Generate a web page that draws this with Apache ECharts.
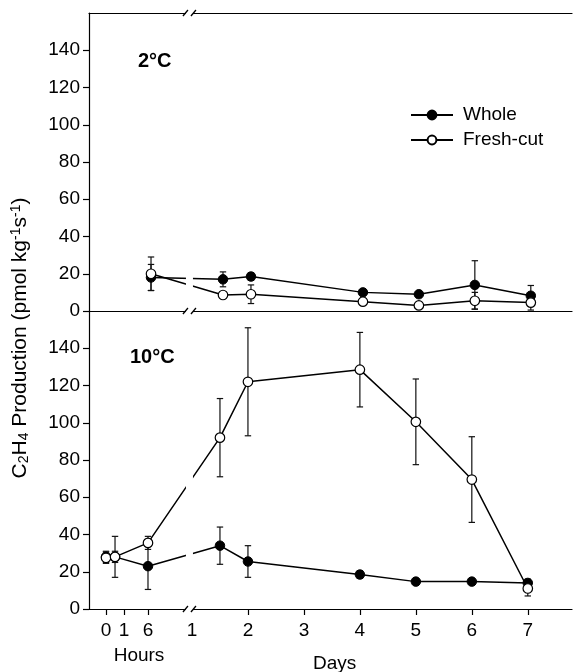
<!DOCTYPE html>
<html><head><meta charset="utf-8">
<script src="https://cdn.jsdelivr.net/npm/echarts@6/dist/echarts.min.js"></script>
<style>html,body{margin:0;padding:0;background:#fff}#c{width:573px;height:672px}</style>
</head><body><div id="c"></div>
<script>
// ---------------- data ----------------
const timeValues = [0, 0.5, 6, 1.5, 2, 4, 5, 6, 7];
const timeUnits  = ['h', 'h', 'h', 'd', 'd', 'd', 'd', 'd', 'd'];
// 2 °C panel
const whole2     = [null, null, 18, 17, 18.5, 10, 9, 14, 8.2];
const whole2Err  = [null, null, 7, 4, 2, 1.5, 1.5, 13, 5.5];
const fresh2     = [null, null, 20, 8.6, 9, 5, 3, 5.5, 4.5];
const fresh2Err  = [null, null, 9, 1.5, 5, 1, 1, 4.5, 4];
// 10 °C panel
const whole10    = [28, 28, 23, 34, 25.5, 18.5, 14.7, 14.7, 14];
const whole10Err = [3, 11, 12.5, 10, 8.5, 2, 1.5, 1.5, 2];
const fresh10    = [27.5, 28, 35.5, 92, 122, 128.5, 100.5, 69.5, 11];
const fresh10Err = [3, 3, 3.5, 21, 29, 20, 23, 23, 4];
// tick labels
const hourTicks  = [0, 1, 6];
const dayTicks   = [1, 2, 3, 4, 5, 6, 7];
const yTicks     = [0, 20, 40, 60, 80, 100, 120, 140];
const panelLabels = ['2°C', '10°C'];
const seriesNames = ['Whole', 'Fresh-cut'];
const xNames = ['Hours', 'Days'];

// ---------------- broken-axis scale (hours section compressed) ----------------
const HOUR_SCALE_H = [0, 1, 6];
const HOUR_SCALE_U = [-0.536, -0.214, 0.214];
function xPos(t, unit) {
  if (unit === 'd') return t;
  for (let i = 0; i < HOUR_SCALE_H.length - 1; i++) {
    const a = HOUR_SCALE_H[i], b = HOUR_SCALE_H[i + 1];
    if (t <= b) return HOUR_SCALE_U[i] + (t - a) / (b - a) * (HOUR_SCALE_U[i + 1] - HOUR_SCALE_U[i]);
  }
  return HOUR_SCALE_U[HOUR_SCALE_U.length - 1];
}

const FONT = '"Liberation Sans", Arial, Helvetica, sans-serif';
const X_MIN = -0.84, X_MAX = 7.79, TOP_SHIFT = 0.054;
const G_TOP = 13, G_MID = 311, G_BOT = 609;

function pts(vals) {
  const out = [];
  vals.forEach((v, i) => { if (v != null) out.push([xPos(timeValues[i], timeUnits[i]), v]); });
  return out;
}
function errs(vals, e) {
  const out = [];
  vals.forEach((v, i) => { if (v != null && e[i] != null) out.push([xPos(timeValues[i], timeUnits[i]), v - e[i], v + e[i]]); });
  return out;
}
function errRender(params, api) {
  const x = api.value(0);
  const p1 = api.coord([x, api.value(2)]);
  const p2 = api.coord([x, api.value(1)]);
  const w = 3.2;
  const st = { stroke: '#111', lineWidth: 1.2 };
  return { type: 'group', children: [
    { type: 'line', shape: { x1: p1[0], y1: p1[1], x2: p2[0], y2: p2[1] }, style: st },
    { type: 'line', shape: { x1: p1[0] - w, y1: p1[1], x2: p1[0] + w, y2: p1[1] }, style: st },
    { type: 'line', shape: { x1: p2[0] - w, y1: p2[1], x2: p2[0] + w, y2: p2[1] }, style: st }
  ]};
}
function lineSeries(name, data, filled, xi, yi) {
  return {
    type: 'line', name, data, xAxisIndex: xi, yAxisIndex: yi, z: 3,
    symbol: 'circle', symbolSize: 9.5, showSymbol: true,
    lineStyle: { color: '#000', width: 1.5 },
    itemStyle: filled ? { color: '#000', borderColor: '#000', borderWidth: 1 }
                      : { color: '#fff', borderColor: '#000', borderWidth: 1.2 },
    emphasis: { disabled: true }
  };
}

const hourTickPos = hourTicks.map(h => xPos(h, 'h'));
const labelVals = hourTickPos.concat(dayTicks);
const labelTexts = hourTicks.map(String).concat(dayTicks.map(String));
const tickVals = hourTickPos.concat(dayTicks.filter(d => d !== 1));

const yAxisBase = (gi) => ({
  type: 'value', gridIndex: gi, min: 0, max: 160, interval: 20,
  axisLine: { show: true, onZero: false, lineStyle: { color: '#000', width: 1.2 } },
  axisTick: { show: true, length: 6, customValues: yTicks, lineStyle: { color: '#000', width: 1.2 } },
  axisLabel: { customValues: yTicks, margin: 9, color: '#000', fontSize: 19, fontFamily: FONT },
  splitLine: { show: false }
});

const chart = echarts.init(document.getElementById('c'), null, { renderer: 'canvas' });
const option = {
  animation: false,
  backgroundColor: '#fff',
  grid: [
    { left: 89, right: 1, top: G_TOP, height: G_MID - G_TOP },
    { left: 89, right: 1, top: G_MID, height: G_BOT - G_MID }
  ],
  xAxis: [
    { type: 'value', gridIndex: 0, min: X_MIN - TOP_SHIFT, max: X_MAX - TOP_SHIFT, position: 'bottom',
      axisLine: { show: true, onZero: false, lineStyle: { color: '#000', width: 1.2 } },
      axisTick: { show: false }, axisLabel: { show: false }, splitLine: { show: false } },
    { type: 'value', gridIndex: 0, min: X_MIN - TOP_SHIFT, max: X_MAX - TOP_SHIFT, position: 'top',
      axisLine: { show: true, onZero: false, lineStyle: { color: '#000', width: 1.2 } },
      axisTick: { show: false }, axisLabel: { show: false }, splitLine: { show: false } },
    { type: 'value', gridIndex: 1, min: X_MIN, max: X_MAX, position: 'bottom',
      axisLine: { show: true, onZero: false, lineStyle: { color: '#000', width: 1.2 } },
      axisTick: { show: true, length: 6, customValues: tickVals, lineStyle: { color: '#000', width: 1.2 } },
      axisLabel: { customValues: labelVals, margin: 12, color: '#000', fontSize: 19, fontFamily: FONT,
        formatter: (v) => {
          let best = 0, bd = 1e9;
          labelVals.forEach((lv, i) => { const d = Math.abs(lv - v); if (d < bd) { bd = d; best = i; } });
          return labelTexts[best];
        } },
      splitLine: { show: false } }
  ],
  yAxis: [yAxisBase(0), yAxisBase(1)],
  legend: {
    data: seriesNames, orient: 'vertical', left: 410, top: 105, padding: 0,
    itemWidth: 42, itemHeight: 11, itemGap: 5, selectedMode: false,
    textStyle: { fontSize: 19, color: '#000', fontFamily: FONT, lineHeight: 20, padding: [0, 0, 0, 5] }
  },
  series: [
    { type: 'custom', name: 'err2', xAxisIndex: 0, yAxisIndex: 0, z: 1, renderItem: errRender,
      data: errs(whole2, whole2Err).concat(errs(fresh2, fresh2Err)), silent: true },
    lineSeries(seriesNames[0], pts(whole2), true, 0, 0),
    lineSeries(seriesNames[1], pts(fresh2), false, 0, 0),
    { type: 'custom', name: 'err10', xAxisIndex: 2, yAxisIndex: 1, z: 1, renderItem: errRender,
      data: errs(whole10, whole10Err).concat(errs(fresh10, fresh10Err)), silent: true },
    lineSeries(seriesNames[0], pts(whole10), true, 2, 1),
    lineSeries(seriesNames[1], pts(fresh10), false, 2, 1)
  ]
};
chart.setOption(option);

// break marks and texts
const bx = chart.convertToPixel({ xAxisIndex: 2 }, 0.955);
const daysX = chart.convertToPixel({ xAxisIndex: 2 }, 3.55);
const gfx = [
  { type: 'rect', z: 100, shape: { x: bx - 3.5, y: 8, width: 7, height: G_BOT - 8 + 3 }, style: { fill: '#fff' } }
];
[G_TOP, G_MID, G_BOT].forEach(y => {
  [bx - 4, bx + 4].forEach(cx => {
    gfx.push({ type: 'line', z: 101, shape: { x1: cx - 2.5, y1: y + 3, x2: cx + 2.5, y2: y - 3 },
      style: { stroke: '#000', lineWidth: 1.3 } });
  });
});
gfx.push(
  { type: 'text', z: 101, left: 138, top: 51, style: { text: panelLabels[0], font: 'bold 20px ' + FONT, fill: '#000' } },
  { type: 'text', z: 101, left: 130, top: 347, style: { text: panelLabels[1], font: 'bold 20px ' + FONT, fill: '#000' } },
  { type: 'text', z: 101, x: 139, y: 656, style: { text: xNames[0], font: '19px ' + FONT, fill: '#000', align: 'center', verticalAlign: 'middle' } },
  { type: 'text', z: 101, x: daysX, y: 664, style: { text: xNames[1], font: '19px ' + FONT, fill: '#000', align: 'center', verticalAlign: 'middle' } },
  { type: 'text', z: 101, x: 20, y: 338, rotation: Math.PI / 2,
    style: {
      text: '{n|C}{sub|2}{n|H}{sub|4}{n| Production (pmol kg}{sup|-1}{n|s}{sup|-1}{n|)}',
      align: 'center', verticalAlign: 'middle', fill: '#000',
      rich: {
        n: { fontSize: 21, fontFamily: FONT, lineHeight: 22, fill: '#000' },
        sub: { fontSize: 14, fontFamily: FONT, lineHeight: 11, verticalAlign: 'bottom', fill: '#000' },
        sup: { fontSize: 14, fontFamily: FONT, lineHeight: 11, verticalAlign: 'top', fill: '#000' }
      }
    } }
);
chart.setOption({ graphic: gfx });
</script>
</body></html>
